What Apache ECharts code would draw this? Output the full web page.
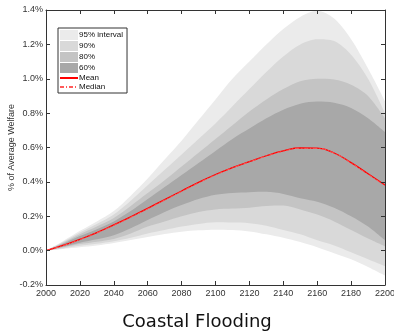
<!DOCTYPE html>
<html>
<head>
<meta charset="utf-8">
<script src="https://cdn.jsdelivr.net/npm/echarts@6/dist/echarts.min.js"></script>
<style>html,body{margin:0;padding:0;background:#fff}#c{width:394px;height:333px}</style>
</head>
<body>
<div id="c"></div>
<script>
const years = [2000,2010,2020,2030,2040,2050,2060,2070,2080,2090,2100,2110,2120,2130,2140,2150,2160,2170,2180,2190,2200];
const meanVals   = [0,0.030,0.066,0.105,0.150,0.197,0.246,0.297,0.347,0.397,0.443,0.483,0.518,0.552,0.580,0.597,0.596,0.568,0.512,0.447,0.382];
const medianVals = [0,0.029,0.064,0.103,0.147,0.194,0.243,0.294,0.344,0.394,0.440,0.481,0.516,0.550,0.578,0.595,0.595,0.567,0.510,0.444,0.378];
const p95Low = [0,0.010,0.020,0.030,0.045,0.062,0.080,0.097,0.110,0.118,0.122,0.120,0.112,0.095,0.075,0.050,0.020,-0.015,-0.050,-0.095,-0.145];
const p95Up  = [0,0.055,0.115,0.170,0.230,0.320,0.420,0.530,0.640,0.760,0.880,1.000,1.100,1.200,1.290,1.360,1.395,1.350,1.230,1.060,0.870];
const p90Low = [0,0.013,0.028,0.040,0.055,0.075,0.100,0.120,0.140,0.155,0.165,0.163,0.160,0.145,0.120,0.095,0.060,0.030,-0.010,-0.050,-0.090];
const p90Up  = [0,0.050,0.105,0.155,0.210,0.290,0.380,0.470,0.560,0.650,0.740,0.840,0.940,1.040,1.130,1.200,1.230,1.220,1.140,1.000,0.800];
const p80Low = [0,0.018,0.038,0.052,0.068,0.100,0.140,0.170,0.200,0.225,0.240,0.245,0.250,0.260,0.262,0.240,0.210,0.170,0.120,0.070,0.025];
const p80Up  = [0,0.045,0.095,0.140,0.190,0.260,0.335,0.410,0.490,0.570,0.650,0.730,0.810,0.880,0.940,0.985,1.000,0.995,0.965,0.900,0.770];
const p60Low = [0,0.022,0.046,0.066,0.090,0.130,0.178,0.225,0.265,0.300,0.325,0.335,0.340,0.342,0.330,0.305,0.285,0.250,0.200,0.140,0.060];
const p60Up  = [0,0.040,0.085,0.125,0.170,0.230,0.300,0.370,0.440,0.510,0.580,0.650,0.710,0.770,0.820,0.855,0.867,0.860,0.830,0.770,0.690];
const yTicks = [-0.2,0,0.2,0.4,0.6,0.8,1.0,1.2,1.4];
const bandNames = ['95% interval','90%','80%','60%'];
const bandColors = ['#ebebeb','#d9d9d9','#c4c4c4','#a8a8a8'];

const bands = [[p95Low,p95Up],[p90Low,p90Up],[p80Low,p80Up],[p60Low,p60Up]];
const series = [];
bands.forEach((b, i) => {
  const st = 'band' + i;
  series.push({
    type:'line', stack: st, stackStrategy:'all', silent:true, symbol:'none', smooth:0.3,
    lineStyle:{opacity:0}, data: b[0].slice(), z: 2+i
  });
  series.push({
    name: bandNames[i], type:'line', stack: st, stackStrategy:'all', silent:true, symbol:'none', smooth:0.3,
    itemStyle:{color:bandColors[i]},
    lineStyle:{opacity:0}, areaStyle:{color:bandColors[i], opacity:1},
    data: b[1].map((v,k)=>v-b[0][k]), z: 2+i
  });
});
series.push({
  name:'Mean', type:'line', symbol:'none', smooth:true, itemStyle:{color:'#ff0000'},
  lineStyle:{color:'#ff0000', width:1.3}, data: meanVals.slice(), z:10
});
series.push({
  name:'Median', type:'line', symbol:'none', smooth:true, itemStyle:{color:'#ff5a5a'},
  lineStyle:{color:'#ff5a5a', width:1, type:[4,2,1,2]}, data: medianVals.slice(), z:11
});

const axisLineStyle = {show:true, onZero:false, lineStyle:{color:'#333', width:1}};
const tickStyle = {show:true, inside:true, length:4, lineStyle:{color:'#333'}};
const chart = echarts.init(document.getElementById('c'), null, {renderer:'canvas'});
chart.setOption({
  animation:false,
  backgroundColor:'#fff',
  grid:{left:46, right:9, top:10, bottom:48, containLabel:false, outerBoundsMode:'none'},
  title:{text:'Coastal Flooding', left:'center', bottom:-3,
    textStyle:{fontSize:18, fontWeight:'normal', color:'#111', fontFamily:'DejaVu Sans'}},
  legend:{
    left:58, top:28, orient:'vertical', itemWidth:18, itemHeight:10, itemGap:1,
    padding:[2,4,2,1], borderColor:'#333', borderWidth:1, backgroundColor:'#fff',
    textStyle:{fontSize:8, color:'#111', padding:[0,0,0,-4], fontFamily:'Liberation Sans'},
    data:[
      {name:'95% interval', icon:'rect'},
      {name:'90%', icon:'rect'},
      {name:'80%', icon:'rect'},
      {name:'60%', icon:'rect'},
      {name:'Mean', itemStyle:{opacity:0}},
      {name:'Median', itemStyle:{opacity:0}}
    ]
  },
  xAxis:[
    {type:'category', data:years, boundaryGap:false, position:'bottom', z:20,
      axisLine:axisLineStyle, axisTick:Object.assign({interval:1}, tickStyle), splitLine:{show:false},
      axisLabel:{interval:1, fontSize:9, color:'#333', margin:4, fontFamily:'Liberation Sans'}},
    {type:'category', data:years, boundaryGap:false, position:'top', z:20,
      axisLine:axisLineStyle, axisTick:Object.assign({interval:1}, tickStyle), splitLine:{show:false},
      axisLabel:{show:false}}
  ],
  yAxis:[
    {type:'value', min:yTicks[0], max:yTicks[yTicks.length-1], interval:0.2, position:'left', z:20,
      axisLine:axisLineStyle, axisTick:tickStyle, splitLine:{show:false},
      name:'% of Average Welfare', nameLocation:'middle', nameGap:30, nameRotate:90, nameMoveOverlap:false,
      nameTextStyle:{fontSize:9, color:'#333', fontFamily:'Liberation Sans'},
      axisLabel:{fontSize:9, color:'#333', margin:3, formatter:v=>v.toFixed(1)+'%', fontFamily:'Liberation Sans'}},
    {type:'value', min:yTicks[0], max:yTicks[yTicks.length-1], interval:0.2, position:'right', z:20,
      axisLine:axisLineStyle, axisTick:tickStyle, splitLine:{show:false},
      axisLabel:{show:false}}
  ],
  series: series
});
</script>
</body>
</html>
